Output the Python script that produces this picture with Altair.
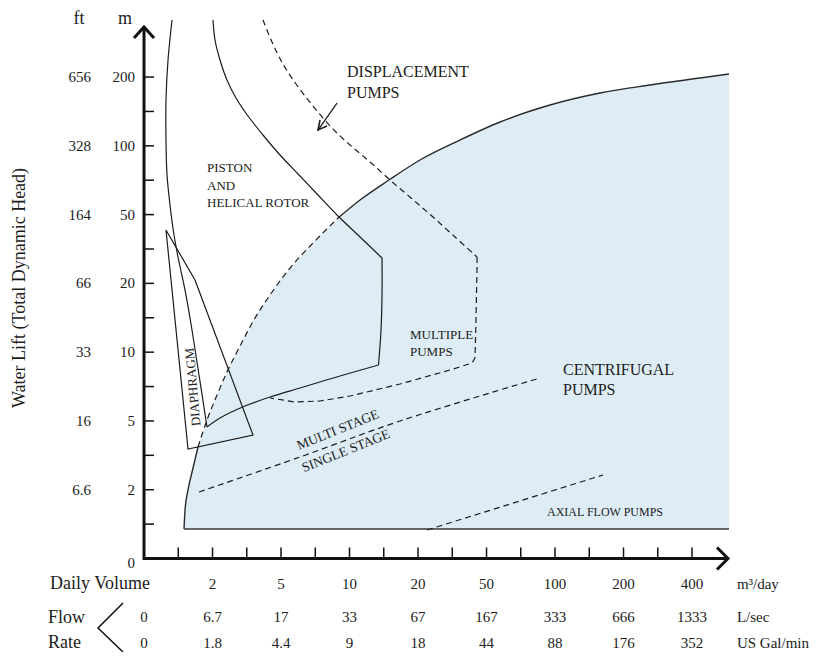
import altair as alt
import pandas as pd

# ---------------- frame (units = tick steps) ----------------
XMIN, XMAX = -3.971, 19.474
YMIN, YMAX = -2.719, 16.008
W, H = 803, 644
SERIF = "Liberation Serif"
INK = "#1c1c1c"

# ---------------- axis labels ----------------
head_m = ["0", "2", "5", "10", "20", "50", "100", "200"]
head_m_pos = [-0.13, 2, 4, 6, 8, 10, 12, 14]
head_ft = ["6.6", "16", "33", "66", "164", "328", "656"]
head_ft_pos = [2, 4, 6, 8, 10, 12, 14]
y_minor_ticks = list(range(1, 15))
x_minor_ticks = list(range(1, 17))

daily_volume = ["2", "5", "10", "20", "50", "100", "200", "400"]
daily_pos = [2, 4, 6, 8, 10, 12, 14, 16]
flow_lsec = ["0", "6.7", "17", "33", "67", "167", "333", "666", "1333"]
flow_gpm = ["0", "1.8", "4.4", "9", "18", "44", "88", "176", "352"]
flow_pos = [0, 2, 4, 6, 8, 10, 12, 14, 16]
row_units = ["m³/day", "L/sec", "US Gal/min"]
row_y = [-0.741, -1.701, -2.457]

# ---------------- centrifugal envelope ----------------
env_x = [1.168, 1.197, 1.285, 1.431, 1.577, 1.839, 2.131, 2.423, 2.803, 3.241,
         3.679, 4.263, 4.934, 5.664, 6.307, 7.153, 8.058, 9.226, 10.394, 11.854,
         13.314, 14.774, 16.234, 17.080]
env_y = [0.858, 1.410, 1.992, 2.632, 3.242, 4.027, 4.754, 5.423, 6.179, 6.993,
         7.662, 8.447, 9.174, 9.901, 10.425, 11.006, 11.588, 12.169, 12.693, 13.187,
         13.536, 13.769, 13.972, 14.088]
env_base = 0.858

# ---------------- piston & helical rotor outline ----------------
piston_left_x = [0.818, 0.701, 0.642, 0.642, 0.672, 0.759, 0.876, 1.022, 1.197, 1.401, 1.606, 1.839]
piston_left_y = [15.659, 14.496, 13.332, 12.169, 11.151, 10.279, 9.407, 8.622, 7.808, 6.644, 5.336, 3.824]
piston_bottom_x = [1.839, 2.219, 2.949, 3.679, 4.555, 5.723, 6.847]
piston_bottom_y = [3.824, 4.085, 4.434, 4.696, 4.958, 5.307, 5.627]
piston_right_x = [6.847, 6.920, 6.949, 6.949]
piston_right_y = [5.627, 6.644, 7.662, 8.738]
piston_top_x = [6.949, 6.307, 5.664, 5.080, 4.526, 3.971, 3.474, 3.036, 2.686, 2.423, 2.219, 2.073, 2.015]
piston_top_y = [8.738, 9.349, 9.959, 10.570, 11.152, 11.733, 12.315, 12.867, 13.391, 13.914, 14.496, 15.077, 15.659]

# ---------------- diaphragm ----------------
diaph_x = [0.642, 1.285, 3.182, 1.489, 0.642]
diaph_y = [9.552, 3.184, 3.591, 8.098, 9.552]

# ---------------- displacement / multiple pumps (dashed) ----------------
disp_x = [3.474, 3.737, 4.058, 4.438, 4.934, 5.489, 6.015, 6.599, 7.182, 7.796,
          8.438, 9.080, 9.723]
disp_y = [15.659, 15.019, 14.379, 13.798, 13.158, 12.518, 12.024, 11.530, 11.006, 10.483,
          9.930, 9.349, 8.767]
multi_x = [9.723, 9.723, 9.693, 9.664, 9.577, 8.934, 7.474, 6.015, 5.139, 4.409, 3.679]
multi_y = [8.767, 8.447, 6.935, 5.830, 5.685, 5.481, 5.074, 4.725, 4.580, 4.551, 4.667]

# multi stage / single stage divide
stage_x = [1.606, 4.555, 7.474, 11.562]
stage_y = [1.934, 2.951, 3.998, 5.249]

# axial flow divide
axial_x = [8.263, 13.401]
axial_y = [0.829, 2.428]

# arrow pointing at displacement boundary
arrow_x = [5.635, 5.080]
arrow_y = [13.245, 12.460]
arrowhead_x = [5.139, 5.080, 5.343]
arrowhead_y = [12.751, 12.460, 12.576]

# ---------------- axes frame ----------------
axis_x = [0, 0, 17.05]
axis_y = [15.455, 0, 0]
ychev_x = [-0.292, 0, 0.292]
ychev_y = [15.135, 15.455, 15.135]
xchev_x = [16.73, 17.05, 16.73]
xchev_y = [0.32, 0, -0.32]
bracket_x = [-0.613, -1.343, -0.613]
bracket_y = [-1.294, -2.021, -2.719]

xs = alt.Scale(domain=[XMIN, XMAX], nice=False, zero=False)
ys = alt.Scale(domain=[YMIN, YMAX], nice=False, zero=False)


def X(field):
    return alt.X(field, type="quantitative", scale=xs, axis=None)


def Y(field):
    return alt.Y(field, type="quantitative", scale=ys, axis=None)


def path(px, py, dash=None, width=1.2, color=INK, interp="linear", join="round"):
    df = pd.DataFrame({"x": px, "y": py, "i": list(range(len(px)))})
    kw = dict(color=color, strokeWidth=width, interpolate=interp, strokeJoin=join)
    if dash:
        kw["strokeDash"] = dash
    return alt.Chart(df).mark_line(**kw).encode(x=X("x"), y=Y("y"), order="i:Q")


def texts(px, py, labels, size, align="center", baseline="middle", angle=None, color=INK):
    df = pd.DataFrame({"x": px, "y": py, "t": labels})
    kw = dict(fontSize=size, align=align, baseline=baseline, font=SERIF, color=color)
    if angle is not None:
        kw["angle"] = angle
    return alt.Chart(df).mark_text(**kw).encode(x=X("x"), y=Y("y"), text="t:N")


layers = []

# shaded centrifugal region
env_df = pd.DataFrame({"x": env_x, "y": env_y, "b": [env_base] * len(env_x)})
layers.append(
    alt.Chart(env_df).mark_area(color="#deedf5", interpolate="monotone", orient="vertical")
    .encode(x=X("x"), y=Y("y"), y2="b:Q")
)
# envelope outline
layers.append(path(env_x[:5], env_y[:5], width=1.4, color="#2a2a2a", interp="monotone"))
layers.append(path(env_x[4:14], env_y[4:14], dash=[6, 4], width=1.2, interp="monotone"))
layers.append(path(env_x[13:], env_y[13:], width=1.4, color="#2a2a2a", interp="monotone"))
layers.append(path([env_x[0], env_x[-1]], [env_base, env_base], width=1.6, color="#3a3a3a"))

# piston outline
layers.append(path(piston_left_x, piston_left_y, interp="catmull-rom"))
layers.append(path(piston_bottom_x, piston_bottom_y, interp="catmull-rom"))
layers.append(path(piston_right_x, piston_right_y, interp="catmull-rom"))
layers.append(path(piston_top_x, piston_top_y, interp="catmull-rom"))

# diaphragm
layers.append(path(diaph_x, diaph_y, join="miter"))

# dashed boundaries
layers.append(path(disp_x, disp_y, dash=[6, 4], interp="catmull-rom"))
layers.append(path(multi_x, multi_y, dash=[6, 4], interp="linear"))
layers.append(path(stage_x, stage_y, dash=[6, 4], interp="catmull-rom"))
layers.append(path(axial_x, axial_y, dash=[6, 4]))

# arrow
layers.append(path(arrow_x, arrow_y, width=1.3))
layers.append(path(arrowhead_x, arrowhead_y, width=1.6, join="miter"))

# axes
layers.append(path(axis_x, axis_y, width=3, color="#111111", join="miter"))
layers.append(path(ychev_x, ychev_y, width=3, color="#111111", join="miter"))
layers.append(path(xchev_x, xchev_y, width=3, color="#111111", join="miter"))

ytk = pd.DataFrame({"y": y_minor_ticks, "a": [0] * len(y_minor_ticks), "b": [0.292] * len(y_minor_ticks)})
layers.append(alt.Chart(ytk).mark_rule(color="#111111", strokeWidth=1.5)
              .encode(x=X("a"), x2="b:Q", y=Y("y")))
xtk = pd.DataFrame({"x": x_minor_ticks, "a": [0] * len(x_minor_ticks), "b": [0.32] * len(x_minor_ticks)})
layers.append(alt.Chart(xtk).mark_rule(color="#111111", strokeWidth=1.5)
              .encode(x=X("x"), y=Y("a"), y2="b:Q"))

# y labels
layers.append(texts([-0.263] * len(head_m), head_m_pos, head_m, 15, align="right"))
layers.append(texts([-1.55] * len(head_ft), head_ft_pos, head_ft, 15, align="right"))
layers.append(texts([-1.898, -0.555], [15.55, 15.55], ["ft", "m"], 18, baseline="alphabetic"))
layers.append(texts([-3.62], [7.866], ["Water Lift  (Total Dynamic Head)"], 18, angle=270))

# bottom rows
layers.append(texts(daily_pos, [row_y[0]] * len(daily_pos), daily_volume, 15))
layers.append(texts(flow_pos, [row_y[1]] * len(flow_pos), flow_lsec, 15))
layers.append(texts(flow_pos, [row_y[2]] * len(flow_pos), flow_gpm, 15))
layers.append(texts([17.31] * 3, row_y, row_units, 15, align="left"))
layers.append(texts([-1.285], [row_y[0]], ["Daily Volume"], 18))
layers.append(texts([-2.803, -2.803], [-1.73, -2.457], ["Flow", "Rate"], 18, align="left"))
layers.append(path(bracket_x, bracket_y, width=1.5, color="#111111", join="miter"))

# region annotations
layers.append(texts([5.927, 5.927], [14.147, 13.536], ["DISPLACEMENT", "PUMPS"], 16, align="left"))
layers.append(texts([1.839, 1.839, 1.839], [11.355, 10.832, 10.337],
                    ["PISTON", "AND", "HELICAL ROTOR"], 13, align="left"))
layers.append(texts([7.766, 7.766], [6.499, 6.005], ["MULTIPLE", "PUMPS"], 13, align="left"))
layers.append(texts([12.234, 12.234], [5.481, 4.900], ["CENTRIFUGAL", "PUMPS"], 16, align="left"))
layers.append(texts([11.766], [1.352], ["AXIAL FLOW PUMPS"], 12, align="left"))
layers.append(texts([5.664], [3.737], ["MULTI STAGE"], 13.5, angle=338))
layers.append(texts([5.898], [3.126], ["SINGLE STAGE"], 13.5, angle=338))
layers.append(texts([1.431], [4.987], ["DIAPHRAGM"], 13, angle=265))

chart = (
    alt.layer(*layers)
    .properties(width=W, height=H, padding=0, autosize="none")
    .configure_view(stroke=None)
)

chart.save("out.html", embed_options={"renderer": "svg", "actions": False})
